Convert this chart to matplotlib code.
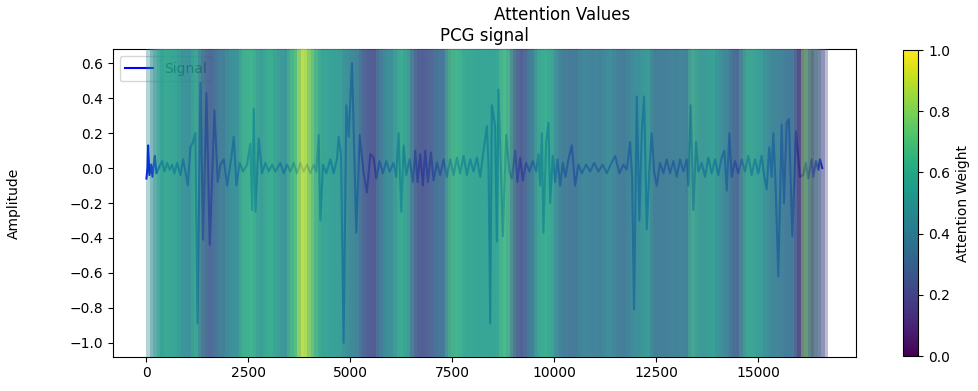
import numpy as np
import matplotlib
matplotlib.use("Agg")
import matplotlib.pyplot as plt
from matplotlib import cm, colors

# PCG signal, turning points (sample index, amplitude)
sig_t = [0, 25, 40, 73, 114, 147, 204, 245, 302, 384, 441, 506, 571, 629, 686, 751,
         833, 898, 955, 1013, 1078, 1143, 1200, 1250, 1323, 1388, 1470, 1552, 1666, 1748,
         1813, 1895, 1977, 2075, 2140, 2205, 2287, 2369, 2467, 2548, 2589, 2630, 2671, 2752,
         2834, 2916, 2997, 3079, 3161, 3283, 3365, 3446, 3528, 3609, 3691, 3773, 3854, 3936,
         4018, 4099, 4165, 4222, 4263, 4328, 4410, 4508, 4589, 4671, 4712, 4769, 4834, 4900,
         4957, 5039, 5145, 5227, 5325, 5406, 5488, 5569, 5635, 5716, 5798, 5880, 5961, 6059,
         6125, 6182, 6248, 6304, 6370, 6451, 6533, 6590, 6647, 6713, 6778, 6836, 6901, 6975,
         7040, 7122, 7203, 7285, 7367, 7448, 7530, 7612, 7693, 7775, 7857, 7938, 8020, 8102,
         8183, 8265, 8347, 8388, 8428, 8469, 8550, 8591, 8632, 8738, 8820, 8901, 8959, 9040,
         9097, 9163, 9228, 9310, 9391, 9473, 9555, 9612, 9653, 9694, 9734, 9800, 9857, 9898,
         9963, 10020, 10077, 10143, 10208, 10273, 10347, 10429, 10510, 10592, 10674, 10780,
         10878, 10976, 11082, 11188, 11286, 11384, 11491, 11597, 11695, 11777, 11858, 11907,
         11956, 12022, 12087, 12144, 12201, 12267, 12332, 12389, 12446, 12512, 12593, 12675,
         12757, 12838, 12920, 13002, 13083, 13165, 13247, 13287, 13344, 13410, 13475, 13532,
         13614, 13696, 13777, 13859, 13941, 14022, 14104, 14169, 14228, 14291, 14349, 14431,
         14512, 14594, 14676, 14757, 14839, 14921, 15002, 15084, 15149, 15207, 15271, 15329,
         15369, 15427, 15492, 15574, 15631, 15697, 15753, 15835, 15925, 16023, 16104, 16170,
         16227, 16309, 16350, 16415, 16472, 16513, 16570]
sig_y = [-0.06, 0.0, 0.13, -0.04, 0.02, -0.05, 0.07, -0.03, 0.0, 0.04, -0.02, 0.03, -0.01, 0.02, -0.03, 0.03,
         -0.04, 0.05, -0.02, -0.1, 0.12, 0.15, 0.2, -0.89, 0.49, -0.41, 0.43, -0.44, 0.33, -0.08,
         0.02, 0.05, -0.1, 0.05, 0.18, -0.1, 0.03, -0.02, 0.02, 0.14, -0.24, 0.34, -0.25, 0.17,
         -0.03, 0.03, -0.02, 0.02, -0.02, 0.03, -0.03, 0.02, -0.02, 0.03, -0.03, 0.03, -0.02, 0.02,
         -0.03, 0.02, -0.02, 0.19, -0.3, 0.02, -0.03, 0.05, -0.03, 0.05, 0.18, 0.08, -1.0, 0.36,
         0.18, 0.6, -0.37, 0.19, -0.03, -0.14, 0.08, 0.06, -0.06, 0.04, -0.03, 0.04, -0.02, 0.03,
         -0.05, 0.2, -0.25, 0.13, -0.04, 0.05, -0.08, 0.1, -0.08, 0.08, -0.1, 0.1, -0.08, 0.09,
         -0.07, 0.03, -0.04, 0.05, -0.05, 0.05, -0.04, 0.06, -0.03, 0.07, -0.04, 0.05, -0.02, 0.06,
         -0.05, 0.1, 0.24, 0.0, -0.89, 0.36, 0.24, -0.42, 0.45, -0.39, 0.19, -0.02, -0.06, 0.1,
         -0.08, 0.06, -0.07, 0.03, -0.02, 0.04, -0.02, 0.08, -0.1, 0.2, -0.37, 0.15, 0.26, -0.2,
         0.07, -0.08, 0.05, -0.1, 0.03, -0.05, 0.05, 0.13, -0.1, 0.02, -0.03, 0.02,
         -0.02, 0.03, -0.02, 0.02, -0.03, 0.02, 0.07, -0.03, 0.02, -0.01, 0.15, -0.05,
         -0.81, 0.41, -0.3, 0.2, 0.41, -0.35, 0.0, 0.2, -0.02, -0.1, 0.03, -0.03,
         0.05, -0.03, 0.04, -0.05, 0.05, -0.02, 0.05, -0.1, 0.36, -0.24, 0.15, -0.02,
         0.03, -0.05, 0.06, -0.03, 0.05, -0.04, 0.06, 0.1, -0.13, 0.2, -0.05, 0.04,
         -0.03, 0.05, -0.02, 0.07, -0.04, 0.05, -0.03, 0.07, -0.05, -0.12, 0.12, -0.05,
         0.2, -0.1, -0.62, 0.25, -0.2, 0.26, 0.28, -0.39, 0.21, -0.05, -0.04, 0.03,
         -0.06, 0.05, -0.05, 0.04, -0.01, 0.05, 0.0]

# attention weight per window
attention = [0.45, 0.45, 0.55, 0.57, 0.55, 0.6, 0.55, 0.52, 0.55, 0.45,
             0.43, 0.47, 0.45, 0.6, 0.6, 0.25, 0.22, 0.25, 0.28, 0.38,
             0.36, 0.4, 0.38, 0.48, 0.5, 0.46, 0.48, 0.63, 0.65, 0.6,
             0.63, 0.5, 0.48, 0.5, 0.6, 0.62, 0.6, 0.47, 0.45, 0.48,
             0.47, 0.68, 0.7, 0.72, 0.95, 1.0, 0.8, 0.62, 0.6, 0.53,
             0.55, 0.52, 0.55, 0.53, 0.5, 0.53, 0.5, 0.4, 0.42, 0.38,
             0.4, 0.38, 0.22, 0.2, 0.22, 0.2, 0.22, 0.45, 0.45, 0.47,
             0.45, 0.43, 0.6, 0.62, 0.6, 0.45, 0.43, 0.2, 0.18, 0.2,
             0.22, 0.3, 0.28, 0.3, 0.35, 0.36, 0.35, 0.65, 0.67, 0.65,
             0.62, 0.55, 0.53, 0.55, 0.57, 0.55, 0.53, 0.55, 0.55, 0.55,
             0.53, 0.55, 0.57, 0.7, 0.7, 0.5, 0.22, 0.2, 0.22, 0.22,
             0.4, 0.42, 0.4, 0.6, 0.62, 0.6, 0.6, 0.5, 0.5, 0.35,
             0.33, 0.35, 0.36, 0.35, 0.33, 0.35, 0.45, 0.45, 0.38, 0.37,
             0.38, 0.4, 0.38, 0.45, 0.46, 0.45, 0.35, 0.33, 0.35, 0.36,
             0.45, 0.45, 0.47, 0.45, 0.5, 0.52, 0.5, 0.3, 0.3, 0.38,
             0.4, 0.38, 0.37, 0.4, 0.38, 0.38, 0.4, 0.38, 0.65, 0.63,
             0.45, 0.45, 0.47, 0.55, 0.55, 0.53, 0.4, 0.4, 0.38, 0.4,
             0.25, 0.25, 0.27, 0.6, 0.62, 0.6, 0.5, 0.5, 0.48, 0.5,
             0.4, 0.4, 0.38, 0.4, 0.4, 0.35, 0.33, 0.35, 0.35, 0.15,
             0.05, 0.85, 0.65, 0.2, 0.2]

HOP = 84          # samples between window starts
WIN = 5 * HOP     # window length in samples

fig = plt.figure(figsize=(9.79, 3.91), dpi=100)
ax = fig.add_axes([0.1151, 0.0877, 0.7593, 0.7862])
cax = fig.add_axes([0.9227, 0.0895, 0.0153, 0.7826])

ax.plot(sig_t, sig_y, color="blue", linewidth=1.5, label="Signal", zorder=2)
ax.legend(loc="upper left")

cmap = plt.get_cmap("viridis")
norm = colors.Normalize(vmin=0, vmax=1)
for i, w in enumerate(attention):
    ax.axvspan(i * HOP, i * HOP + WIN, facecolor=cmap(norm(w)), alpha=0.35,
               linewidth=0, zorder=6)

rng = sig_t[-1] - sig_t[0]
ax.set_xlim(sig_t[0] - 0.05 * rng, sig_t[-1] + 0.05 * rng)
ax.set_title("PCG signal", fontsize=12)
ax.set_ylabel("Amplitude")
ax.yaxis.set_label_coords(-0.123, 0.5)

sm = cm.ScalarMappable(norm=norm, cmap=cmap)
sm.set_array([])
cbar = fig.colorbar(sm, cax=cax)
cbar.set_label("Attention Weight")

fig.suptitle("Attention Values", x=0.574, y=0.985, fontsize=12)

fig.savefig("out.png", dpi=100)
